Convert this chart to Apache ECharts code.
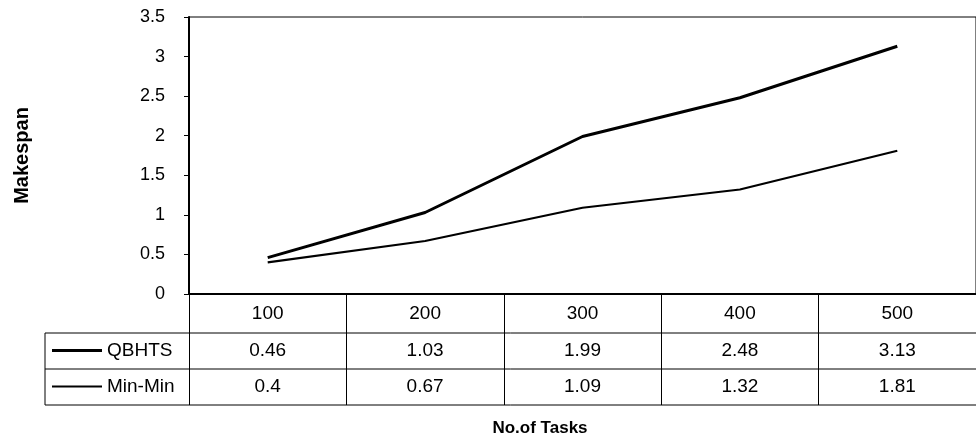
<!DOCTYPE html>
<html><head><meta charset="utf-8">
<script src="https://cdn.jsdelivr.net/npm/echarts@6/dist/echarts.min.js"></script>
<style>html,body{margin:0;padding:0;background:#fff}#c{width:976px;height:446px}</style>
</head><body><div id="c"></div>
<script>
var categories = ['100','200','300','400','500'];
var qbhts = [0.46, 1.03, 1.99, 2.48, 3.13];
var minmin = [0.4, 0.67, 1.09, 1.32, 1.81];
var seriesNames = ['QBHTS','Min-Min'];
var yAxisName = 'Makespan';
var xAxisName = 'No.of Tasks';

var FONT = "'Liberation Sans', Arial, sans-serif";
var chart = echarts.init(document.getElementById('c'), null, {renderer:'canvas'});
var GL = 189, GT = 17, GW = 790, GH = 277;
function hline(y, x1, x2, w){ return {type:'line', shape:{x1:x1,y1:y,x2:x2,y2:y}, style:{stroke:'#000', lineWidth:w||1}, z:10}; }
var TFS = 19;
var option = {
  backgroundColor:'#fff',
  animation:false,
  grid:{left:GL, top:GT, width:GW, height:GH, show:true, borderColor:'#000', borderWidth:1, backgroundColor:'transparent'},
  legend:[
    {data:[seriesNames[0]], left:52, top:341, padding:0, icon:'rect', itemWidth:50, itemHeight:3, itemGap:0,
     textStyle:{fontFamily:FONT, fontSize:TFS, color:'#000'}},
    {data:[seriesNames[1]], left:52, top:377, padding:0, icon:'rect', itemWidth:50, itemHeight:2, itemGap:0,
     textStyle:{fontFamily:FONT, fontSize:TFS, color:'#000'}}
  ],
  xAxis:[
    {type:'category', data:categories, boundaryGap:true, position:'bottom',
     axisLine:{show:true, lineStyle:{color:'#000', width:2}},
     axisTick:{show:true, length:111, lineStyle:{color:'#000', width:1}},
     axisLabel:{margin:10, fontFamily:FONT, fontSize:TFS, color:'#000'}},
    {type:'category', data:qbhts.map(String), boundaryGap:true, position:'bottom', gridIndex:0,
     axisLine:{show:false}, axisTick:{show:false},
     axisLabel:{margin:47, fontFamily:FONT, fontSize:TFS, color:'#000'}},
    {type:'category', data:minmin.map(String), boundaryGap:true, position:'bottom', gridIndex:0,
     axisLine:{show:false}, axisTick:{show:false},
     axisLabel:{margin:83, fontFamily:FONT, fontSize:TFS, color:'#000'}}
  ],
  yAxis:{type:'value', min:0, max:3.5, interval:0.5,
    name:yAxisName, nameLocation:'middle', nameGap:157, nameRotate:90,
    nameTextStyle:{fontFamily:FONT, fontSize:20, fontWeight:'bold', color:'#000'},
    axisLine:{show:true, lineStyle:{color:'#000', width:2}},
    axisTick:{show:true, length:5, lineStyle:{color:'#000'}},
    splitLine:{show:false},
    axisLabel:{margin:24, fontFamily:FONT, fontSize:18, color:'#000'}},
  series:[
    {name:seriesNames[0], type:'line', data:qbhts, showSymbol:false, symbol:'none',
     itemStyle:{color:'#000'}, lineStyle:{color:'#000', width:3}},
    {name:seriesNames[1], type:'line', data:minmin, showSymbol:false, symbol:'none',
     itemStyle:{color:'#000'}, lineStyle:{color:'#000', width:2.2}}
  ],
  graphic:[
    hline(333, 45, 976, 1), hline(369, 45, 976, 1), hline(405, 45, 976, 1),
    {type:'line', shape:{x1:45,y1:333,x2:45,y2:405}, style:{stroke:'#000', lineWidth:1}, z:10},
    {type:'text', x:540, y:428, style:{text:xAxisName, font:'bold 17px '+FONT, fill:'#000', align:'center', verticalAlign:'middle'}}
  ]
};
chart.setOption(option);
</script></body></html>
